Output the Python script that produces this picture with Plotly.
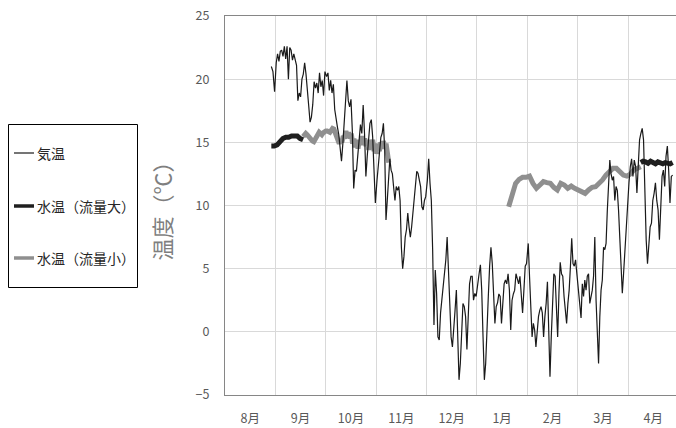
import numpy as np
import plotly.graph_objects as go

# ---------------- data ----------------
months = ["8月", "9月", "10月", "11月", "12月", "1月", "2月", "3月", "4月"]
month_days = [31, 30, 31, 30, 31, 31, 28, 31, 30]

# air temperature (°C), read per month; first value Aug 29, last value Apr 27
air_aug = [21.0, 20.6, 19.0]
air_sep = [21.3, 22.0, 21.4, 22.2, 22.3, 21.8, 22.6, 21.6, 22.6, 20.0, 22.5, 22.3, 21.5,
           22.0, 21.5, 21.1, 18.3, 18.9, 18.6, 20.0, 20.4, 21.3, 20.4, 18.8, 17.9, 16.6,
           17.0, 18.0, 19.8, 19.3, 19.7, 18.9, 20.5, 19.4, 19.9, 18.7, 20.6]
air_oct = [20.2, 20.5, 19.1, 19.9, 18.9, 19.6, 17.6, 16.7, 16.2, 15.6, 14.5, 13.5, 14.9,
           16.6, 18.0, 19.9, 18.3, 17.8, 18.4, 15.9, 11.35, 12.8, 12.7, 14.0, 14.9, 16.4,
           15.7, 17.95, 15.7, 12.3, 13.9, 15.2, 16.5, 16.8, 15.45, 12.8, 10.2]
air_nov = [12.0, 13.1, 14.7, 15.4, 15.7, 16.5, 14.4, 8.85, 10.4, 12.5, 13.7, 12.8, 12.5,
           11.4, 10.4, 11.5, 11.2, 11.5, 10.4, 6.7, 5.0, 5.95, 7.5, 8.1, 9.4, 8.3, 7.5,
           8.3, 9.4, 10.4, 11.8, 12.7, 12.55, 12.0, 11.5, 9.9, 9.65, 10.4, 10.7]
air_dec = [12.0, 13.7, 11.75, 10.4, 6.5, 0.54, 4.9, 3.04, -0.4, -0.65, 1.5, 2.5, 3.8,
           4.4, 5.7, 7.5, 4.6, 1.7, -0.4, -1.2, 0.67, 1.7, 3.3, 0.14, -3.8, -2.5, 0.14,
           2.25, 2.0, 1.2, -1.4, 2.0, 3.8, 4.4, 4.4, 2.5, 3.04, 2.8]
air_jan = [3.6, 4.6, 5.3, 3.3, -0.4, -3.8, -2.5, -0.4, 2.8, 5.2, 6.7, 5.4, 3.3, 0.67,
           2.0, 2.3, 3.0, 2.8, 0.67, 2.8, 3.8, 4.1, 3.8, 4.6, 3.3, 0.14, 2.5, 3.0, 3.3,
           4.6, 4.1, 3.8, 4.4, 2.8, 1.5, 3.3, 5.2, 5.4]
air_feb = [7.0, 4.4, 1.7, -0.4, 0.67, 0.14, -1.2, 0.14, 1.2, 1.7, 2.0, 1.5, -0.4, 1.2,
           2.25, 3.97, 0.67, -3.55, -0.4, 2.8, 4.6, 4.4, 1.7, -0.4, 3.04, 5.5, 4.6, 4.4,
           2.8, 1.5, 0.67, 2.25, 3.3, 5.2, 7.4, 5.4, 5.2, 5.7, 4.6]
air_mar = [3.3, 2.25, 1.1, 3.8, 2.8, 4.1, 3.3, 4.4, 4.6, 2.25, 2.8, 3.3, 4.4, 7.5, 2.5,
           -0.1, -2.5, 1.2, 3.3, 4.1, 6.7, 6.5, 7.0, 9.6, 11.5, 13.6, 12.5, 12.0, 12.3,
           10.4, 11.5, 11.2, 9.6, 7.3, 4.6, 3.05, 4.6, 6.5, 7.8, 9.9]
air_apr = [11.8, 13.07, 13.7, 12.3, 13.6, 13.1, 11.0, 13.1, 15.2, 15.7, 16.1, 15.2, 10.4,
           7.3, 5.4, 6.7, 8.3, 8.6, 10.4, 10.96, 11.8, 10.4, 9.65, 7.3, 10.4, 12.3, 12.8,
           11.5, 13.9, 14.7, 12.8, 10.2, 12.3, 12.4]
air_first_day = 29   # Aug 29
air_last_day = 27    # Apr 27

# water temperature, large flow (°C): two periods
large_p1_dates = ("8/29", "9/17")
large_p1 = [14.7, 14.7, 14.8, 15.05, 15.3, 15.4, 15.4, 15.5, 15.5, 15.5, 15.3, 15.2]
large_p2_dates = ("4/8", "4/27")
large_p2 = [13.4, 13.5, 13.45, 13.35, 13.5, 13.4, 13.3, 13.45, 13.35, 13.3, 13.4,
            13.35, 13.3, 13.4]

# water temperature, small flow (°C): two periods
small_p1_dates = ("9/17", "11/8")
small_p1 = [15.45, 15.55, 15.7, 15.6, 15.45, 15.3, 15.2, 15.1, 15.05, 15.2, 15.45, 15.65,
            15.8, 15.7, 15.6, 15.75, 15.9, 15.9, 15.9, 15.85, 15.8, 15.95, 16.1, 16.05,
            15.8,
            15.5, 15.1, 14.9, 15.2, 15.0, 15.5, 15.3, 15.9, 15.4, 15.8, 15.3, 15.7, 14.9,
            15.3, 14.6, 15.2, 14.5, 15.2, 14.8, 15.5, 14.8, 15.3, 14.7, 15.2, 14.4, 15.0,
            14.6, 15.2, 14.3, 14.9, 14.1, 14.7, 14.3, 15.0, 14.5, 15.1, 14.6, 14.9, 14.3,
            13.4]
small_p2_dates = ("1/20", "4/8")
small_p2 = [9.9, 10.96, 11.75, 12.07, 12.23, 12.23, 12.33, 11.75, 11.36, 11.62, 11.89,
            11.81, 11.75, 11.44, 11.23, 11.75, 11.62, 11.36, 11.54, 11.36, 11.23, 11.1,
            10.96, 11.23, 11.44, 11.49, 11.75, 12.02, 12.41, 12.68, 12.94, 12.94, 12.68,
            12.41, 12.33, 12.49, 12.81, 12.94, 13.07]

series_names = ["気温", "水温（流量大）", "水温（流量小）"]
series_colors = ["#1a1a1a", "#1f1f1f", "#8f8f8f"]

# ---------------- helpers ----------------
month_numbers = [8, 9, 10, 11, 12, 1, 2, 3, 4]


def date_pos(s):
    mo, d = (int(v) for v in s.split("/"))
    m = month_numbers.index(mo)
    return m + (d - 0.5) / month_days[m]


def month_positions(m, first, last, n):
    nd = month_days[m]
    return np.linspace(m + (first - 0.5) / nd, m + (last - 0.5) / nd, n)


air_months = [air_aug, air_sep, air_oct, air_nov, air_dec, air_jan, air_feb, air_mar, air_apr]
air_x, air_y = [], []
for m, vals in enumerate(air_months):
    first = air_first_day if m == 0 else 1
    last = air_last_day if m == len(air_months) - 1 else month_days[m]
    air_x += list(month_positions(m, first, last, len(vals)))
    air_y += vals


def segments(parts):
    xs, ys = [], []
    for (d0, d1), vals in parts:
        if xs:
            xs.append(None)
            ys.append(None)
        xs += list(np.linspace(date_pos(d0), date_pos(d1), len(vals)))
        ys += vals
    return xs, ys


large_x, large_y = segments([(large_p1_dates, large_p1), (large_p2_dates, large_p2)])
small_x, small_y = segments([(small_p1_dates, small_p1), (small_p2_dates, small_p2)])

# ---------------- figure ----------------
W, H = 676, 428
ML, MR, MT, MB = 225, 0, 16, 33
PW, PH = W - ML - MR, H - MT - MB

fig = go.Figure()
fig.add_trace(go.Scatter(x=large_x, y=large_y, mode="lines", name=series_names[1],
                         line=dict(color=series_colors[1], width=5), connectgaps=False))
fig.add_trace(go.Scatter(x=small_x, y=small_y, mode="lines", name=series_names[2],
                         line=dict(color=series_colors[2], width=5), connectgaps=False))
fig.add_trace(go.Scatter(x=air_x, y=air_y, mode="lines", name=series_names[0],
                         line=dict(color=series_colors[0], width=1.2)))

font_family = "Noto Sans CJK JP"


def px_x(px):
    return (px - ML) / PW


def px_y(py):
    return (H - MB - py) / PH


# legend drawn as a framed key to the left of the plot
shapes = [dict(type="rect", xref="paper", yref="paper",
               x0=px_x(8.5), x1=px_x(137.5), y0=px_y(287.5), y1=px_y(124.5),
               line=dict(color="#000000", width=1), fillcolor="rgba(0,0,0,0)")]
annotations = []
legend_rows = [153, 206, 258]
legend_widths = [1.2, 3.5, 3.5]
for name, color, lw, row in zip(series_names, series_colors, legend_widths, legend_rows):
    shapes.append(dict(type="line", xref="paper", yref="paper",
                       x0=px_x(14), x1=px_x(34), y0=px_y(row), y1=px_y(row),
                       line=dict(color=color, width=lw)))
    annotations.append(dict(xref="paper", yref="paper", x=px_x(35), y=px_y(row),
                            xanchor="left", yanchor="middle", showarrow=False,
                            text=name, font=dict(family=font_family, size=14,
                                                 color="#262626")))

fig.update_layout(
    width=W, height=H,
    margin=dict(l=ML, r=MR, t=MT, b=MB),
    paper_bgcolor="white", plot_bgcolor="white",
    font=dict(family=font_family, color="#595959", size=12),
    showlegend=False,
    shapes=shapes,
    annotations=annotations,
)
fig.update_xaxes(
    range=[0, 8.95], automargin=False,
    tickmode="array", tickvals=[i + 0.5 for i in range(len(months))], ticktext=months,
    showgrid=False, zeroline=False, ticks="",
    showline=True, mirror=True, linecolor="#868686", linewidth=1,
    ticklabelstandoff=12,
    tickfont=dict(size=12.5, color="#595959"),
    minor=dict(tickmode="linear", tick0=0, dtick=1, showgrid=True,
               gridcolor="#d9d9d9", gridwidth=1, ticks=""),
)
fig.update_yaxes(
    range=[-5, 25], automargin=False, tickmode="linear", tick0=-5, dtick=5,
    showgrid=True, gridcolor="#d9d9d9", gridwidth=1, zeroline=False, ticks="",
    showline=True, mirror=False, linecolor="#868686", linewidth=1,
    ticklabelstandoff=12,
    tickfont=dict(size=12.5, color="#595959"),
    title=dict(text="温度（℃）", font=dict(size=22, color="#7f7f7f"), standoff=17),
)

fig.write_html(
    "out.html",
    config={"displayModeBar": False},
    post_script="document.body.style.margin='0';document.body.style.overflow='hidden';",
)
